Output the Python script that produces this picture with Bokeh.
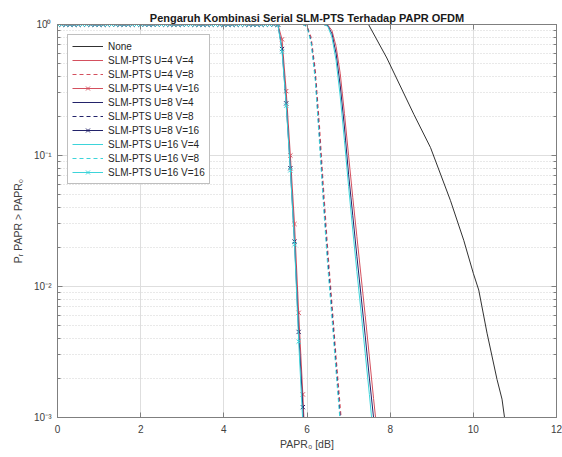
from bokeh.plotting import figure
from bokeh.models import (FixedTicker, LinearAxis, LogAxis, CustomJSTickFormatter,
                          Range1d, Div)
from bokeh.layouts import column
from bokeh.embed import file_html
from bokeh.resources import INLINE

# ---------------- data ----------------
TITLE = "Pengaruh Kombinasi Serial SLM-PTS Terhadap PAPR OFDM"
X_LABEL = "PAPR\u2080 [dB]"
Y_LABEL = "P\u1d63 PAPR > PAPR\u2080"
CAPTION = "Gambar 7. Grafik pengaruh kombinasi serial SLM-PTS"

X_TICKS = [0, 2, 4, 6, 8, 10, 12]
Y_TICKS = [0.001, 0.01, 0.1, 1.0]
Y_TICK_LABELS = ["10\u207b\u00b3", "10\u207b\u00b2", "10\u207b\u00b9", "10\u2070"]
Y_MINOR = [0.002, 0.003, 0.004, 0.005, 0.006, 0.007, 0.008, 0.009,
           0.02, 0.03, 0.04, 0.05, 0.06, 0.07, 0.08, 0.09,
           0.2, 0.3, 0.4, 0.5, 0.6, 0.7, 0.8, 0.9]

# flat (probability = 1) part of the V=16 curves, sampled every 0.1 dB
TOP_X = [0.0, 0.1, 0.2, 0.3, 0.4, 0.5, 0.6, 0.7, 0.8, 0.9,
         1.0, 1.1, 1.2, 1.3, 1.4, 1.5, 1.6, 1.7, 1.8, 1.9,
         2.0, 2.1, 2.2, 2.3, 2.4, 2.5, 2.6, 2.7, 2.8, 2.9,
         3.0, 3.1, 3.2, 3.3, 3.4, 3.5, 3.6, 3.7, 3.8, 3.9,
         4.0, 4.1, 4.2, 4.3, 4.4, 4.5, 4.6, 4.7, 4.8, 4.9,
         5.0, 5.1, 5.2]
TOP_Y = [1.0, 1.0, 1.0, 1.0, 1.0, 1.0, 1.0, 1.0, 1.0, 1.0,
         1.0, 1.0, 1.0, 1.0, 1.0, 1.0, 1.0, 1.0, 1.0, 1.0,
         1.0, 1.0, 1.0, 1.0, 1.0, 1.0, 1.0, 1.0, 1.0, 1.0,
         1.0, 1.0, 1.0, 1.0, 1.0, 1.0, 1.0, 1.0, 1.0, 1.0,
         1.0, 1.0, 1.0, 1.0, 1.0, 1.0, 1.0, 1.0, 1.0, 1.0,
         1.0, 1.0, 1.0]

# None (original OFDM)
NONE_X = [0.0, 7.48, 7.92, 8.57, 8.97, 9.45, 9.77, 10.0, 10.13, 10.33, 10.57, 10.69, 10.75, 10.85]
NONE_Y = [1.0, 1.0, 0.555, 0.206, 0.115, 0.0453, 0.0225, 0.0126, 0.0094, 0.0044, 0.00195, 0.00138, 0.0010, 0.0006]

# V = 4 group
V4_X = [0.0, 6.4, 6.5, 6.6, 6.7, 6.8, 6.9, 7.0, 7.1, 7.2, 7.3, 7.4, 7.5, 7.6, 7.7, 7.8]
U4V4_Y = [1.0, 1.0, 0.99, 0.90, 0.68, 0.42, 0.21, 0.10, 0.048, 0.024, 0.012, 0.0060, 0.0029, 0.0014, 0.0007, 0.0003]
U8V4_Y = [1.0, 1.0, 0.98, 0.85, 0.60, 0.34, 0.165, 0.072, 0.035, 0.017, 0.0085, 0.0042, 0.0020, 0.0010, 0.0004, 0.00015]
U16V4_Y = [1.0, 1.0, 0.97, 0.80, 0.53, 0.28, 0.13, 0.058, 0.027, 0.013, 0.0064, 0.0031, 0.0015, 0.0007, 0.0003, 0.0001]

# V = 8 group
V8_X = [0.0, 5.9, 6.0, 6.1, 6.2, 6.3, 6.4, 6.5, 6.6, 6.7, 6.8, 6.9]
U4V8_Y = [1.0, 1.0, 0.98, 0.80, 0.45, 0.17, 0.055, 0.019, 0.0075, 0.0029, 0.0012, 0.0005]
U8V8_Y = [1.0, 1.0, 0.97, 0.75, 0.40, 0.14, 0.045, 0.016, 0.0065, 0.0025, 0.0010, 0.0004]
U16V8_Y = [1.0, 1.0, 0.96, 0.72, 0.37, 0.125, 0.040, 0.014, 0.0057, 0.0022, 0.0009, 0.0003]

# V = 16 group (steep part, continues the flat part)
V16_TAIL_X = [5.3, 5.4, 5.5, 5.6, 5.7, 5.8, 5.9, 6.0]
U4V16_TAIL = [1.0, 0.77, 0.31, 0.10, 0.030, 0.0063, 0.0015, 0.0003]
U8V16_TAIL = [1.0, 0.65, 0.25, 0.080, 0.022, 0.0045, 0.0012, 0.0002]
U16V16_TAIL = [1.0, 0.62, 0.24, 0.077, 0.021, 0.0038, 0.0009, 0.0002]

# ---------------- styling ----------------
RED = "#d4505e"
NAVY = "#23236a"
CYAN = "#3dd4da"
BLACK = "#1a1a1a"
AXC = "#7f7f7f"
FONT = "Liberation Sans"

p = figure(width=562, height=452, title=TITLE,
           x_range=Range1d(0, 12), y_range=Range1d(0.001, 1.0),
           y_axis_type="log", output_backend="svg", toolbar_location=None,
           min_border_left=57, min_border_right=6, min_border_top=24,
           min_border_bottom=34)
p.outline_line_color = AXC
p.background_fill_color = "white"

p.title.align = "center"
p.title.text_font = FONT
p.title.text_font_size = "11px"
p.title.text_font_style = "bold"
p.title.text_color = "#1a1a1a"
p.title.standoff = 2

xt = FixedTicker(ticks=X_TICKS, minor_ticks=[])
yt = FixedTicker(ticks=Y_TICKS, minor_ticks=Y_MINOR)

ylab_fmt = CustomJSTickFormatter(
    args=dict(tvals=Y_TICKS, tlabels=Y_TICK_LABELS),
    code="""
const i = tvals.findIndex(t => Math.abs(Math.log10(t) - Math.log10(tick)) < 1e-6);
return i >= 0 ? tlabels[i] : '';
""")
blank_fmt = CustomJSTickFormatter(code="return '';")


def style_axis(ax):
    ax.axis_line_color = AXC
    ax.major_tick_line_color = AXC
    ax.minor_tick_line_color = AXC
    ax.major_tick_in = 5
    ax.major_tick_out = 0
    ax.minor_tick_in = 3
    ax.minor_tick_out = 0
    ax.major_label_text_font = FONT
    ax.major_label_text_font_size = "10px"
    ax.major_label_text_color = "#404040"
    ax.axis_label_text_font = FONT
    ax.axis_label_text_font_size = "10.5px"
    ax.axis_label_text_font_style = "normal"
    ax.axis_label_text_color = "#404040"


bx = p.xaxis[0]
bx.ticker = xt
bx.major_label_standoff = 7
bx.axis_label = X_LABEL
bx.axis_label_standoff = 2
style_axis(bx)

ly = p.yaxis[0]
ly.ticker = yt
ly.formatter = ylab_fmt
ly.major_label_standoff = 6
ly.axis_label = Y_LABEL
ly.axis_label_standoff = 7
style_axis(ly)

top_ax = LinearAxis(ticker=xt, formatter=blank_fmt, major_label_standoff=0)
style_axis(top_ax)
top_ax.major_label_text_font_size = "0px"
p.add_layout(top_ax, "above")
right_ax = LogAxis(ticker=yt, formatter=blank_fmt, major_label_standoff=0)
style_axis(right_ax)
right_ax.major_label_text_font_size = "0px"
p.add_layout(right_ax, "right")

p.xgrid.ticker = xt
p.xgrid.grid_line_color = "#dedede"
p.ygrid.ticker = yt
p.ygrid.grid_line_color = "#dedede"
p.ygrid.minor_grid_line_color = "#d2d2d2"
p.ygrid.minor_grid_line_dash = "1 2"

# ---------------- series ----------------
p.line(NONE_X, NONE_Y, color=BLACK, line_width=0.9, legend_label="None")

p.line(V4_X, U4V4_Y, color=RED, line_width=1, legend_label="SLM-PTS U=4 V=4")
p.line(V8_X, U4V8_Y, color=RED, line_width=1, line_dash="4 3", legend_label="SLM-PTS U=4 V=8")
u4v16_x = TOP_X + V16_TAIL_X
u4v16_y = TOP_Y + U4V16_TAIL
p.line(u4v16_x, u4v16_y, color=RED, line_width=1, legend_label="SLM-PTS U=4 V=16")
p.scatter(u4v16_x, u4v16_y, marker="x", size=6, line_color=RED, line_width=1,
          legend_label="SLM-PTS U=4 V=16")

p.line(V4_X, U8V4_Y, color=NAVY, line_width=1, legend_label="SLM-PTS U=8 V=4")
p.line(V8_X, U8V8_Y, color=NAVY, line_width=1, line_dash="4 3", legend_label="SLM-PTS U=8 V=8")
u8v16_x = TOP_X + V16_TAIL_X
u8v16_y = TOP_Y + U8V16_TAIL
p.line(u8v16_x, u8v16_y, color=NAVY, line_width=1, legend_label="SLM-PTS U=8 V=16")
p.scatter(u8v16_x, u8v16_y, marker="x", size=6, line_color=NAVY, line_width=1,
          legend_label="SLM-PTS U=8 V=16")

p.line(V4_X, U16V4_Y, color=CYAN, line_width=1, legend_label="SLM-PTS U=16 V=4")
p.line(V8_X, U16V8_Y, color=CYAN, line_width=1, line_dash="4 3", legend_label="SLM-PTS U=16 V=8")
u16v16_x = TOP_X + V16_TAIL_X
u16v16_y = TOP_Y + U16V16_TAIL
p.line(u16v16_x, u16v16_y, color=CYAN, line_width=1, legend_label="SLM-PTS U=16 V=16")
p.scatter(u16v16_x, u16v16_y, marker="x", size=6, line_color=CYAN, line_width=1,
          legend_label="SLM-PTS U=16 V=16")

lg = p.legend[0]
lg.location = "top_left"
lg.margin = 10
lg.padding = 4
lg.spacing = 0
lg.label_height = 14
lg.glyph_height = 14
lg.glyph_width = 31
lg.label_standoff = 5
lg.label_text_font = FONT
lg.label_text_font_size = "10px"
lg.label_text_color = "#262626"
lg.border_line_color = AXC
lg.background_fill_alpha = 1.0

# caption of the source document, cut off by the bottom edge of the picture
cap = Div(text=CAPTION, width=562, height=5,
          styles={"overflow": "hidden", "font-family": "'Liberation Serif'",
                  "font-size": "22px", "font-weight": "bold", "line-height": "12px",
                  "padding-left": "22px", "white-space": "nowrap", "color": "#000000"})

open("out.html", "w").write(file_html(column(p, cap, spacing=0), INLINE))
